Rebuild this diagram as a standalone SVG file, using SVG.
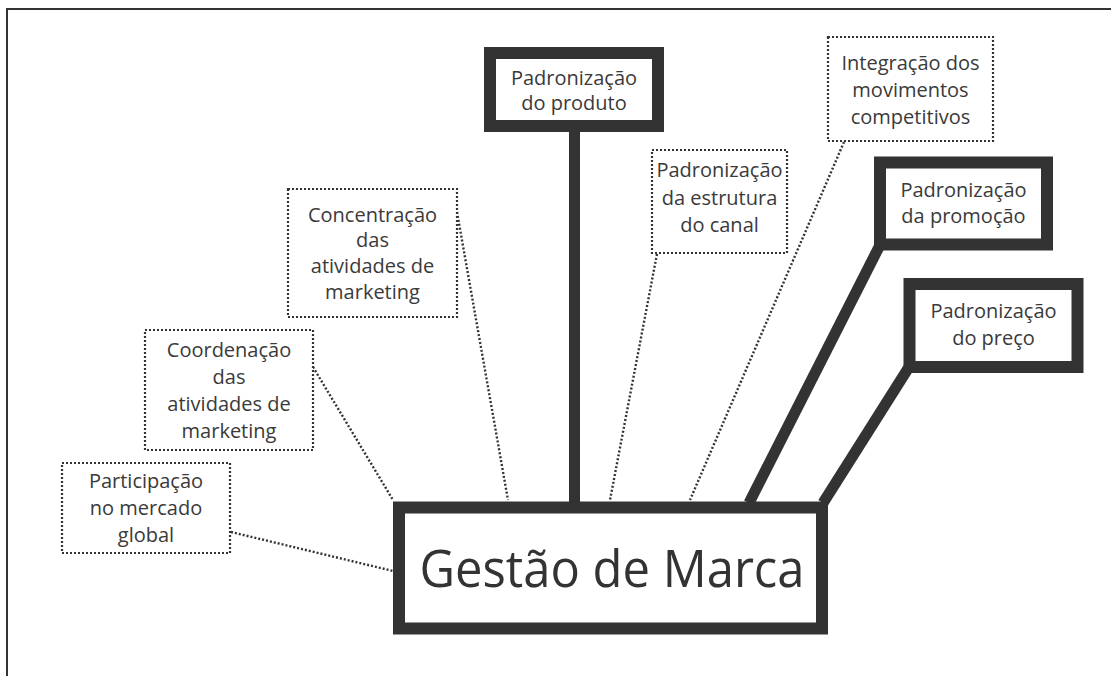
<svg xmlns="http://www.w3.org/2000/svg" width="1111" height="676" viewBox="0 0 1111 676">
<style>
.t{font-family:"Open Sans","Noto Sans","DejaVu Sans",sans-serif;font-size:20px;fill:#3a3a3a;text-anchor:middle}
.big{font-family:"Open Sans","Noto Sans","DejaVu Sans",sans-serif;font-size:51px;fill:#333;text-anchor:middle}
.solid{fill:#fff;stroke:#333;stroke-width:12}
.dot{fill:#fff;stroke:#333;stroke-width:2.2;stroke-dasharray:2 2}
.cs{stroke:#333;stroke-width:11;fill:none}
.cd{stroke:#333;stroke-width:2.4;stroke-dasharray:2 2;fill:none}
</style>
<rect width="1111" height="676" fill="#fff"/>
<path d="M7 676 V9 H1111" fill="none" stroke="#333" stroke-width="2"/>
<g id="connectors">
<line class="cs" x1="574.5" y1="130" x2="574.5" y2="503"/>
<line class="cs" x1="880" y1="245" x2="749" y2="503"/>
<line class="cs" x1="909" y1="367" x2="823" y2="503"/>
<line class="cd" x1="231" y1="532" x2="393" y2="571"/>
<line class="cd" x1="313" y1="367" x2="393" y2="500"/>
<line class="cd" x1="457" y1="212" x2="508" y2="500"/>
<line class="cd" x1="657" y1="254" x2="610" y2="500"/>
<line class="cd" x1="844" y1="142" x2="690" y2="500"/>
</g>
<g id="gestao">
<rect class="solid" x="399" y="507.5" width="423" height="121"/>
<text class="big" x="612" y="587" textLength="385" lengthAdjust="spacingAndGlyphs">Gestão de Marca</text>
</g>
<g id="produto">
<rect class="solid" x="490" y="53" width="168" height="73"/>
<text class="t" x="574" y="85">Padronização</text>
<text class="t" x="574" y="110">do produto</text>
</g>
<g id="canal">
<rect class="dot" x="652" y="150" width="135" height="103"/>
<text class="t" x="719.5" y="177">Padronização</text>
<text class="t" x="719.5" y="205">da estrutura</text>
<text class="t" x="719.5" y="232">do canal</text>
</g>
<g id="integracao">
<rect class="dot" x="828" y="37" width="165" height="104"/>
<text class="t" x="910.5" y="70">Integração dos</text>
<text class="t" x="910.5" y="97">movimentos</text>
<text class="t" x="910.5" y="124">competitivos</text>
</g>
<g id="promocao">
<rect class="solid" x="880" y="162.5" width="167" height="82"/>
<text class="t" x="963.5" y="197">Padronização</text>
<text class="t" x="963.5" y="223">da promoção</text>
</g>
<g id="preco">
<rect class="solid" x="909.5" y="284" width="168" height="83"/>
<text class="t" x="993.5" y="318">Padronização</text>
<text class="t" x="993.5" y="345">do preço</text>
</g>
<g id="concentracao">
<rect class="dot" x="288" y="189" width="169" height="128"/>
<text class="t" x="372.5" y="222">Concentração</text>
<text class="t" x="372.5" y="247">das</text>
<text class="t" x="372.5" y="273">atividades de</text>
<text class="t" x="372.5" y="299">marketing</text>
</g>
<g id="coordenacao">
<rect class="dot" x="145" y="330" width="168" height="120"/>
<text class="t" x="229" y="357">Coordenação</text>
<text class="t" x="229" y="384">das</text>
<text class="t" x="229" y="411">atividades de</text>
<text class="t" x="229" y="438">marketing</text>
</g>
<g id="participacao">
<rect class="dot" x="62" y="463" width="168" height="90"/>
<text class="t" x="146" y="488">Participação</text>
<text class="t" x="146" y="515">no mercado</text>
<text class="t" x="146" y="542">global</text>
</g>
</svg>
